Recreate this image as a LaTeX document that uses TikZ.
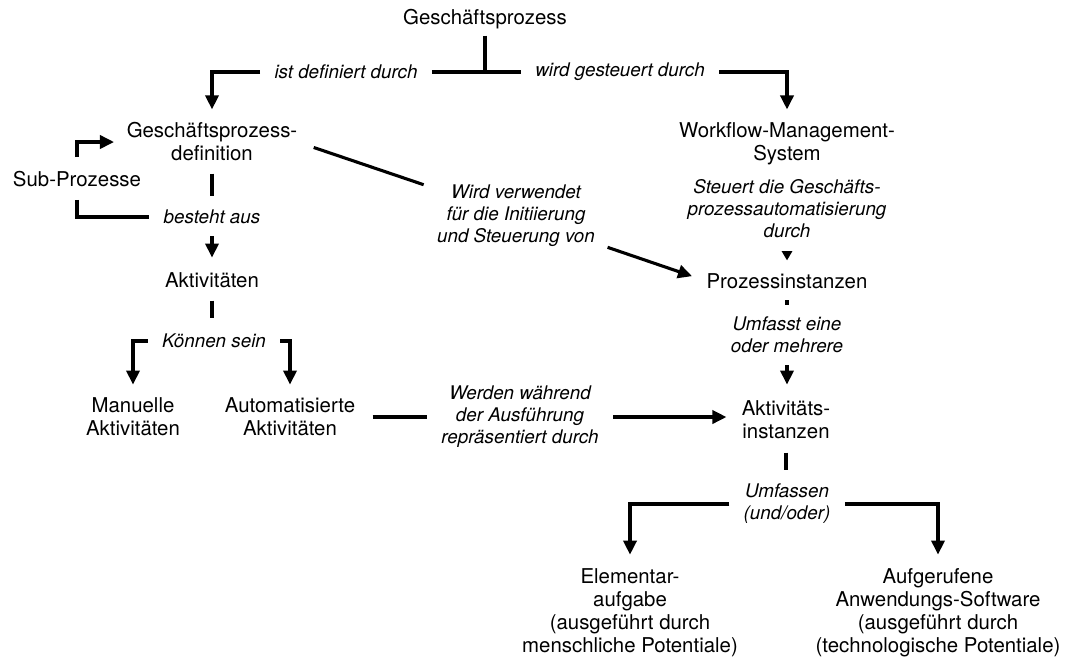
\documentclass[tikz,border=0pt]{standalone}
\usepackage{fontspec}
\setmainfont{TeX Gyre Heros}
\usetikzlibrary{arrows.meta}
\newcommand\conceptfont{\fontsize{10.2pt}{11.5pt}\selectfont}
\newcommand\relationfont{\fontsize{9.4pt}{11pt}\selectfont\itshape}
\begin{document}
\begin{tikzpicture}[x=0.5pt,y=-0.5pt,
  concept/.style={font=\conceptfont, align=center, inner sep=0pt},
  rel/.style={font=\relationfont, align=center, inner xsep=7pt, inner ysep=0pt},
  link/.style={line width=1.55pt},
  arrowlink/.style={link, -{Triangle[length=7pt,width=6.6pt]}},
  minitip/.style={link, -{Triangle[length=4.6pt,width=5pt]}},
]
\useasboundingbox (0,0) rectangle (1068,661);

% concepts
\node[concept] (gp)   at (485,19)    {Geschäftsprozess};
\node[concept] (gpd)  at (212,142)   {Geschäftsprozess-\\definition};
\node[concept] (wfm)  at (787,144)   {Workflow-Management-\\System};
\node[concept] (sub)  at (77,178.6)  {Sub-Prozesse};
\node[concept] (akt)  at (212,280.7) {Aktivitäten};
\node[concept] (pi)   at (787,281)   {Prozessinstanzen};
\node[concept] (man)  at (133,417)   {Manuelle\\Aktivitäten};
\node[concept] (auto) at (290,417)   {Automatisierte\\Aktivitäten};
\node[concept] (ai)   at (786,419.6) {Aktivitäts-\\instanzen};
\node[concept] (elem) at (630,612.7) {Elementar-\\aufgabe\\(ausgeführt durch\\menschliche Potentiale)};
\node[concept] (aufg) at (938,612.7) {Aufgerufene\\Anwendungs-Software\\(ausgeführt durch\\(technologische Potentiale)};

% relation labels
\node[rel] (defby)    at (346,72)  {ist definiert durch};
\node[rel] (steerby)  at (620,72)  {wird gesteuert durch};
\node[rel] (consists) at (212,217) {besteht aus};
\node[rel] (steers)   at (787,209) {Steuert die Geschäfts-\\prozessautomatisierung\\durch};
\node[rel] (used)     at (516,216) {Wird verwendet\\für die Initiierung\\und Steuerung von};
\node[rel] (canbe)    at (214,341) {Können sein};
\node[rel] (repr)     at (520,417) {Werden während\\der Ausführung\\repräsentiert durch};
\node[rel] (oneormore) at (787,335) {Umfasst eine\\oder mehrere};
\node[rel] (andor)    at (787,504) {Umfassen\\(und/oder)};

% top fork
\draw[link, shorten <=3.2pt] (gp.south) -- (gp.south |- defby.east);
\draw[link] (defby.east) -- (defby.east -| steerby.west);
\draw[arrowlink, shorten >=6.5pt] (defby.west) -| (gpd.north);
\draw[arrowlink, shorten >=6.5pt] (steerby.east) -| (wfm.north);

% sub-process loop
\draw[arrowlink, shorten <=6.6pt, shorten >=6.2pt] (sub.north) |- (gpd.west);
\draw[link, shorten <=6.5pt] (sub.south) |- (consists.west);

% left column
\draw[link, shorten <=6pt, shorten >=6.6pt] (gpd.south) -- (consists.north);
\draw[arrowlink, shorten <=6pt, shorten >=7.6pt] (consists.south) -- (akt.north);
\draw[link, shorten <=6pt, shorten >=8pt] (akt.south) -- (akt.south |- canbe.north);
\draw[arrowlink, shorten >=6.5pt] (canbe.west) -| (man.north);
\draw[arrowlink, shorten >=6.5pt] (canbe.east) -| (auto.north);

% automated activities to activity instances
\draw[link, shorten <=8.5pt] (auto.east) -- (auto.east -| repr.west);
\draw[arrowlink, shorten >=7.5pt] (repr.east) -- (repr.east -| ai.west);

% definition to process instances
\draw[link, shorten <=8.5pt] (gpd.east) -- (used);
\draw[arrowlink, shorten >=7.5pt] (used) -- (pi.west);

% right column
\draw[minitip, shorten <=7.2pt, shorten >=6.3pt] (steers.south) -- (pi.north);
\draw[link, shorten <=5.6pt, shorten >=6pt] (pi.south) -- (oneormore.north);
\draw[arrowlink, shorten <=6pt, shorten >=7.8pt] (oneormore.south) -- (oneormore.south |- ai.north);
\draw[link, shorten <=6.75pt, shorten >=7.1pt] (ai.south) -- (ai.south |- andor.north);
\draw[arrowlink, shorten >=6.8pt] (andor.west) -| (elem.north);
\draw[arrowlink, shorten >=6.8pt] (andor.east) -| (aufg.north);
\end{tikzpicture}
\end{document}
